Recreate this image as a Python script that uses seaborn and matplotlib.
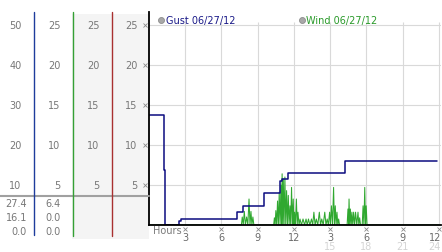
import numpy as np
import pandas as pd
import matplotlib
matplotlib.use("Agg")
import matplotlib.pyplot as plt
import seaborn as sns
from matplotlib.patches import Rectangle
from matplotlib.lines import Line2D
from matplotlib.transforms import blended_transform_factory

# ---------------- data ----------------
gust_hours = [0, 1.27, 1.35, 2.5, 2.65, 7.3, 7.8, 9.5, 10.86, 11.05, 11.5, 16.2, 23.8]
gust_speed = [13.75, 6.9, 0, 0.45, 0.75, 1.6, 2.35, 4.0, 5.5, 5.7, 6.45, 8.0, 8.0]

wind_hours = [0, 7.65, 7.72, 7.8, 7.89, 7.98, 8.08, 8.18, 8.28, 8.36, 8.44, 8.52, 8.6, 8.68,
              10.32, 10.38, 10.44, 10.5, 10.57, 10.64, 10.71, 10.78, 10.85, 10.92, 10.97,
              11.02, 11.07, 11.12, 11.18, 11.25, 11.32, 11.39, 11.46, 11.53, 11.6, 11.67,
              11.73, 11.8, 11.87, 11.94, 12.0, 12.05, 12.12, 12.2, 12.27, 12.33, 12.42,
              12.5, 12.62, 12.75, 12.88, 13.0, 13.1, 13.2, 13.32, 13.45, 13.55, 13.65,
              13.75, 13.85, 13.97, 14.1, 14.2, 14.3, 14.42, 14.55, 14.65, 14.75, 14.85,
              14.95, 15.02, 15.1, 15.19, 15.28, 15.35, 15.42, 15.49, 15.56, 15.63, 15.7,
              15.77, 16.4, 16.47, 16.52, 16.56, 16.62, 16.67, 16.74, 16.8, 16.87, 16.94,
              17.02, 17.1, 17.2, 17.3, 17.37, 17.44, 17.51, 17.65, 17.72, 17.79, 17.86,
              17.92, 17.98, 18.05, 24.0]
wind_speed = [0, 0, 1.0, 0, 1.7, 0, 1.0, 0, 3.25, 0, 1.7, 0, 1.0, 0,
              0, 0.9, 0, 1.8, 0, 3.0, 0, 4.1, 0, 5.0, 0,
              6.4, 0, 5.75, 0, 6.0, 0, 4.3, 0, 3.7, 0, 2.4,
              0, 4.7, 0, 3.25, 0, 1.6, 0, 3.25, 0, 1.6, 0,
              0.75, 0, 0.75, 0, 0.75, 0, 0.75, 0, 0.75, 0, 1.6,
              0, 0.75, 0, 1.6, 0, 0.75, 0, 1.6, 0, 0.75, 0,
              1.6, 0, 2.4, 0, 4.7, 0, 2.4, 0, 1.6, 0, 0.75,
              0, 0, 2.0, 0, 3.25, 0, 2.0, 0, 1.6, 0, 1.6,
              0, 1.6, 0, 1.6, 0, 0.9, 0, 0, 2.4, 0, 4.7,
              0, 2.4, 0, 0]

y_grid = [5, 10, 15, 20, 25]
scale_a_labels = ["10", "20", "30", "40", "50"]
scale_b_labels = ["5", "10", "15", "20", "25"]
x_ticks = [3, 6, 9, 12, 15, 18, 21, 24]
x_labels_top = ["3", "6", "9", "12", "3", "6", "9", "12"]
x_labels_low = ["", "", "", "", "15", "18", "21", "24"]
gust_summary = ["27.4", "16.1", "0.0"]
wind_summary = ["6.4", "0.0", "0.0"]
legend_labels = ["Gust 06/27/12", "Wind 06/27/12"]

# ---------------- figure ----------------
sns.set_theme(style="white")
plt.rcParams["font.family"] = ["DejaVu Sans"]

W, H = 442, 253
fig = plt.figure(figsize=(W / 100, H / 100), dpi=100, facecolor="white")


def fx(px):
    return px / W


def fy(py):
    return 1 - py / H


# left panel backgrounds
fig.add_artist(Rectangle((fx(72), fy(240)), fx(149) - fx(72), fy(15) - fy(240),
                         transform=fig.transFigure, facecolor="#f4f4f4",
                         edgecolor="none", zorder=0))

ax = fig.add_axes([fx(149), fy(226), fx(441) - fx(149), fy(13) - fy(226)])
ax.set_xlim(0, 292 / 12.08)
ax.set_ylim(0, 213 / 8)
ax.set_facecolor("white")

grid_c = "#d9d9d9"
for v in y_grid:
    ax.axhline(v, color=grid_c, lw=0.8, zorder=0)
ax.vlines(x_ticks, 0, 25.35, color=grid_c, lw=0.8, zorder=0)

wind_df = pd.DataFrame({"hour": wind_hours, "speed": wind_speed})
gust_df = pd.DataFrame({"hour": gust_hours, "speed": gust_speed})
sns.lineplot(data=wind_df, x="hour", y="speed", ax=ax, color="#30a830", lw=0.75,
             estimator=None, sort=False, zorder=2)
sns.lineplot(data=gust_df, x="hour", y="speed", ax=ax, color="#0c0c80", lw=1.1,
             estimator=None, sort=False, drawstyle="steps-post", zorder=3)

ax.set_xlabel("")
ax.set_ylabel("")
ax.set_xticks([])
ax.set_yticks([])
for s in ["top", "right"]:
    ax.spines[s].set_visible(False)
for s in ["left", "bottom"]:
    ax.spines[s].set_color("black")
    ax.spines[s].set_linewidth(1.3)
    ax.spines[s].set_zorder(4)

# tiny tick marks
ax.plot([-0.3] * len(y_grid), y_grid, ls="none", marker="x", ms=2.2, mew=0.6,
        color="#8a8a8a", clip_on=False)
ax.plot(x_ticks, [-0.5] * len(x_ticks), ls="none", marker="x", ms=2.2, mew=0.6,
        color="#8a8a8a", clip_on=False)

# x labels (the last column is right-aligned so it stays on the canvas)
trx = blended_transform_factory(ax.transData, fig.transFigure)
for i, (h, lt, lb) in enumerate(zip(x_ticks, x_labels_top, x_labels_low)):
    last = i == len(x_ticks) - 1
    if last:
        kw = dict(x=fx(441), transform=fig.transFigure, ha="right")
    else:
        kw = dict(x=h, transform=trx, ha="center")
    fig.text(kw["x"], fy(238.5), lt, transform=kw["transform"], ha=kw["ha"],
             va="center", fontsize=7, color="#6a6a6a")
    if lb:
        fig.text(kw["x"], fy(247.5), lb, transform=kw["transform"], ha=kw["ha"],
                 va="center", fontsize=7, color="#d4d4d4")
fig.text(fx(153), fy(231.5), "Hours", ha="left", va="center", fontsize=7,
         color="#7a7a7a")

# left panel labels
tr = blended_transform_factory(fig.transFigure, ax.transData)
lab_c = "#777777"
for v, la, lb in zip(y_grid, scale_a_labels, scale_b_labels):
    fig.text(fx(21.5), v, la, transform=tr, ha="right", va="center", fontsize=7, color=lab_c)
    for xr in (60.5, 99.5, 137.5):
        fig.text(fx(xr), v, lb, transform=tr, ha="right", va="center", fontsize=7, color=lab_c)

for yy, g, w in zip((204.5, 218.5, 232), gust_summary, wind_summary):
    fig.text(fx(27), fy(yy), g, ha="right", va="center", fontsize=7, color=lab_c)
    fig.text(fx(60.5), fy(yy), w, ha="right", va="center", fontsize=7, color=lab_c)

# left panel lines
fig.add_artist(Line2D([0, fx(149)], [fy(197)] * 2, transform=fig.transFigure,
                      color="#a0a0a0", lw=1.5, zorder=1))
for xp, c, ye in ((33.5, "#1e3c9c", 236), (72.5, "#34a034", 237), (111.5, "#a83030", 237)):
    fig.add_artist(Line2D([fx(xp)] * 2, [fy(12.5), fy(ye)], transform=fig.transFigure,
                          color=c, lw=1.0, zorder=2))

# legend
for (cx, tx), lab, c in zip(((160.7, 165.5), (301.7, 306.5)), legend_labels,
                            ("#1a1a88", "#2a9a2a")):
    fig.add_artist(Line2D([fx(cx)], [fy(20.7)], transform=fig.transFigure, marker="o",
                          ms=4.3, mfc="#a8a8a8", mec="#8c8c8c", mew=0.6, ls="none"))
    fig.text(fx(tx), fy(20.7), lab, ha="left", va="center", fontsize=7, color=c)

fig.savefig("out.png", dpi=100, facecolor="white")
